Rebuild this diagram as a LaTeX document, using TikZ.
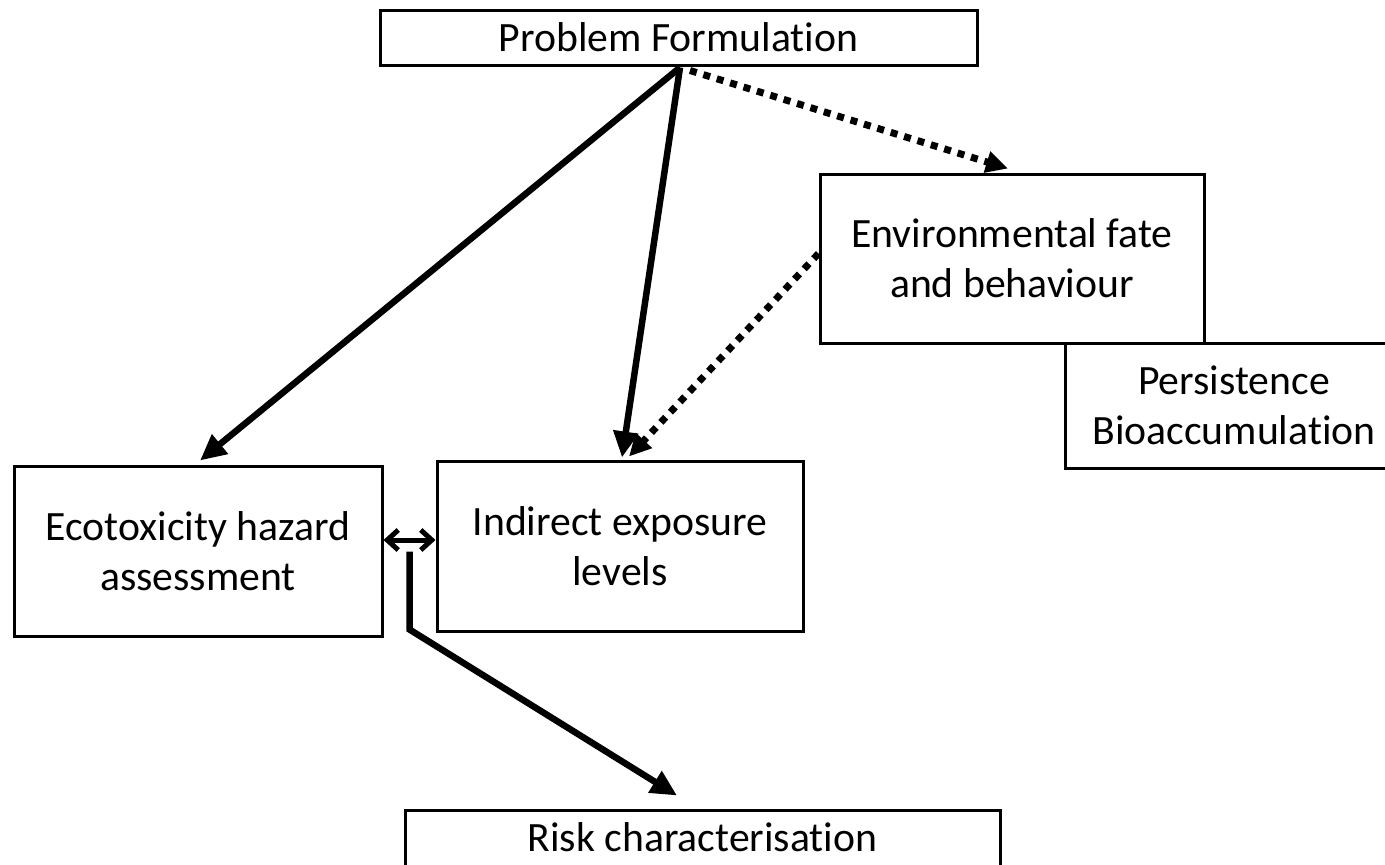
\documentclass[tikz,border=0pt]{standalone}
\usepackage{fontspec}
\setmainfont{Carlito}[Ligatures=NoCommon]
\usetikzlibrary{arrows.meta,calc}

\begin{document}
\begin{tikzpicture}[x=1pt,y=-1pt,
  box/.style={draw, line width=3pt, rectangle, inner sep=0pt, align=center,
    font=\fontsize{41.7pt}{50pt}\selectfont},
  solidarrow/.style={line width=6.5pt, -{Triangle[length=26pt,width=24pt]}},
  dotarrow/.style={line width=7pt, dash pattern=on 7pt off 7pt,
    -{Triangle[length=22pt,width=21pt]}},
  bothway/.style={line width=5pt,
    {Straight Barb[length=11pt,width=20pt]}-{Straight Barb[length=11pt,width=20pt]}},
  riskline/.style={line width=6.5pt, -{Triangle[length=26pt,width=24pt]}}]

\useasboundingbox (0,0) rectangle (1385,865);
\clip (0,0) rectangle (1385,865);

% process boxes
\node[box, minimum width=597pt, minimum height=55pt] (pf) at (678.5,37.5) {Problem Formulation};
\node[box, minimum width=384pt, minimum height=169pt] (env) at (1012,258.5) {Environmental fate\\and behaviour};
\node[box, minimum width=338pt, minimum height=125pt] (pers) at (1234,405.5) {Persistence\\Bioaccumulation};
\node[box, minimum width=368pt, minimum height=170pt] (eco) at (198,551) {Ecotoxicity hazard\\assessment};
\node[box, minimum width=366pt, minimum height=170pt] (ind) at (620,546) {Indirect exposure\\levels};
\node[box, minimum width=595pt, minimum height=80pt, text depth=25pt] (risk) at (702.5,850) {Risk characterisation};

% connectors leaving the problem formulation
\coordinate (fork) at ([xshift=1.5pt,yshift=-1pt]pf.south);
\draw[solidarrow] (fork) -- ([xshift=2pt,yshift=4pt]eco.north);
\draw[solidarrow] (fork) -- ([xshift=2pt,yshift=2pt]ind.north);
\draw[dotarrow] ([xshift=10pt,yshift=-3pt]fork) -- ([xshift=-4pt,yshift=4pt]env.north);

% fate and behaviour feeding exposure
\draw[dotarrow] ([yshift=5pt]env.west) -- ([xshift=9pt,yshift=3pt]ind.north);

% hazard and exposure combined into risk
\draw[bothway] ([yshift=11pt]eco.east) -- ([yshift=6pt]ind.west);
\coordinate (junction) at ($(eco.east)!0.5!(ind.west)$);
\draw[riskline, line join=miter] ([yshift=-3pt]junction) -- ++(0,78) -- ([xshift=-25.5pt,yshift=13pt]risk.north);

\end{tikzpicture}
\end{document}
